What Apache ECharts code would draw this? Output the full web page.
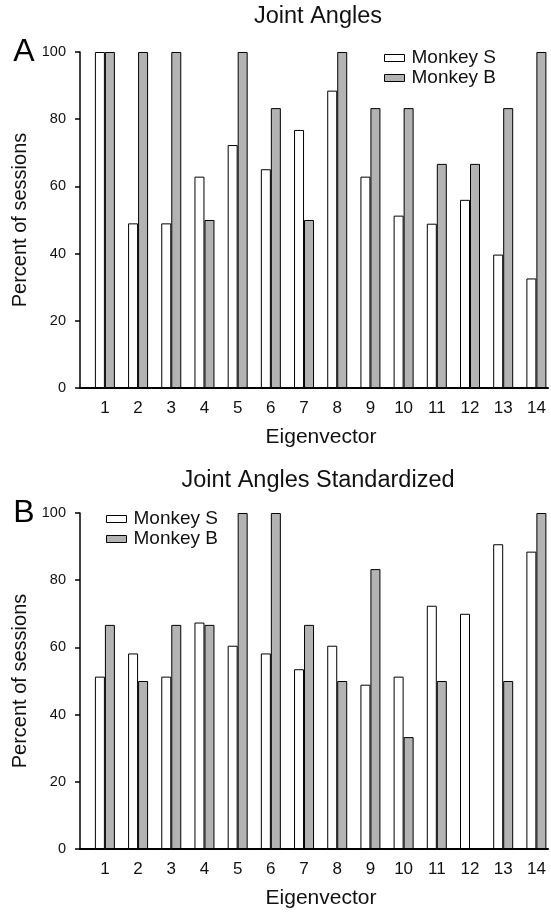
<!DOCTYPE html>
<html><head><meta charset="utf-8">
<script src="https://cdn.jsdelivr.net/npm/echarts@6/dist/echarts.min.js"></script>
<style>html,body{margin:0;padding:0;background:#fff}#c{width:551px;height:915px}</style>
</head><body><div id="c"></div>
<script>
const eigenvectors = [1,2,3,4,5,6,7,8,9,10,11,12,13,14];
const seriesNames = ['Monkey S', 'Monkey B'];
const panelTitles = ['Joint Angles', 'Joint Angles Standardized'];
const panelLetters = ['A', 'B'];
const jointS = [100, 49.0, 49.0, 62.9, 72.3, 65.1, 76.8, 88.5, 62.9, 51.3, 48.9, 56.0, 39.7, 32.6];
const jointB = [100, 100, 100, 50.0, 100, 83.3, 50.0, 100, 83.3, 83.3, 66.7, 66.7, 83.3, 100];
const stdS = [51.3, 58.2, 51.3, 67.4, 60.5, 58.2, 53.5, 60.5, 48.9, 51.3, 72.4, 70.0, 90.7, 88.5];
const stdB = [66.7, 50.0, 66.7, 66.7, 100, 100, 66.7, 50.0, 83.3, 33.3, 50.0, 0, 50.0, 100];
const yTicks = [0, 20, 40, 60, 80, 100];

const FONT = "'Liberation Sans', Arial, sans-serif";
const chart = echarts.init(document.getElementById('c'), null, {renderer: 'canvas'});

const grids = [
  {left: 80, top: 52, width: 468, height: 336},
  {left: 80, top: 513, width: 468, height: 336}
];

function xAxisFor(i) {
  return {
    type: 'value', gridIndex: i, min: 0.25, max: 14.35,
    name: 'Eigenvector', nameLocation: 'middle', nameGap: 39,
    nameTextStyle: {fontFamily: FONT, fontSize: 21, color: '#111', padding: [0, 0, 0, 14]},
    axisLine: {show: true, lineStyle: {color: '#000', width: 2}},
    axisTick: {show: false},
    splitLine: {show: false},
    axisLabel: {customValues: eigenvectors, fontFamily: FONT, fontSize: 17, color: '#111', margin: 12,
      formatter: v => String(v)}
  };
}
function yAxisFor(i) {
  return {
    type: 'value', gridIndex: i, min: yTicks[0], max: yTicks[yTicks.length - 1], interval: 20,
    name: 'Percent of sessions', nameLocation: 'middle', nameGap: 45, nameRotate: 90,
    nameTextStyle: {fontFamily: FONT, fontSize: 20, color: '#111'},
    axisLine: {show: true, lineStyle: {color: '#000', width: 1.5}},
    axisTick: {show: true, inside: false, length: 5, lineStyle: {color: '#000', width: 1.5}},
    splitLine: {show: false},
    axisLabel: {fontFamily: FONT, fontSize: 14.5, color: '#111', margin: 14}
  };
}
function barSeries(name, vals, i, fill) {
  return {
    type: 'bar', name: name, xAxisIndex: i, yAxisIndex: i,
    data: eigenvectors.map((e, k) => [e, vals[k]]),
    barWidth: 10, barGap: '0%',
    itemStyle: {color: fill, borderColor: '#000', borderWidth: 1},
    emphasis: {disabled: true}
  };
}
function legendFor(left, top) {
  return {
    left: left, top: top, orient: 'vertical', padding: 0,
    icon: 'rect', itemWidth: 20, itemHeight: 7, itemGap: 1,
    data: seriesNames,
    itemStyle: {borderColor: '#000', borderWidth: 1},
    textStyle: {fontFamily: FONT, fontSize: 19, color: '#111', lineHeight: 19, padding: [0, 0, 0, 2]}
  };
}

const option = {
  animation: false,
  backgroundColor: '#fff',
  grid: grids,
  xAxis: [xAxisFor(0), xAxisFor(1)],
  yAxis: [yAxisFor(0), yAxisFor(1)],
  legend: [legendFor(384, 48.5), legendFor(106, 509.5)],
  series: [
    barSeries(seriesNames[0], jointS, 0, '#ffffff'),
    barSeries(seriesNames[1], jointB, 0, '#b3b3b3'),
    barSeries(seriesNames[0], stdS, 1, '#ffffff'),
    barSeries(seriesNames[1], stdB, 1, '#b3b3b3')
  ],
  graphic: [
    {type: 'text', x: 318, y: 17, style: {text: panelTitles[0], font: '23.5px ' + FONT, fill: '#111', textAlign: 'center', textVerticalAlign: 'middle'}},
    {type: 'text', x: 318, y: 481, style: {text: panelTitles[1], font: '23.5px ' + FONT, fill: '#111', textAlign: 'center', textVerticalAlign: 'middle'}},
    {type: 'text', x: 24, y: 52, style: {text: panelLetters[0], font: '32px ' + FONT, fill: '#000', textAlign: 'center', textVerticalAlign: 'middle'}},
    {type: 'text', x: 24, y: 513, style: {text: panelLetters[1], font: '32px ' + FONT, fill: '#000', textAlign: 'center', textVerticalAlign: 'middle'}}
  ]
};
chart.setOption(option);
</script></body></html>
